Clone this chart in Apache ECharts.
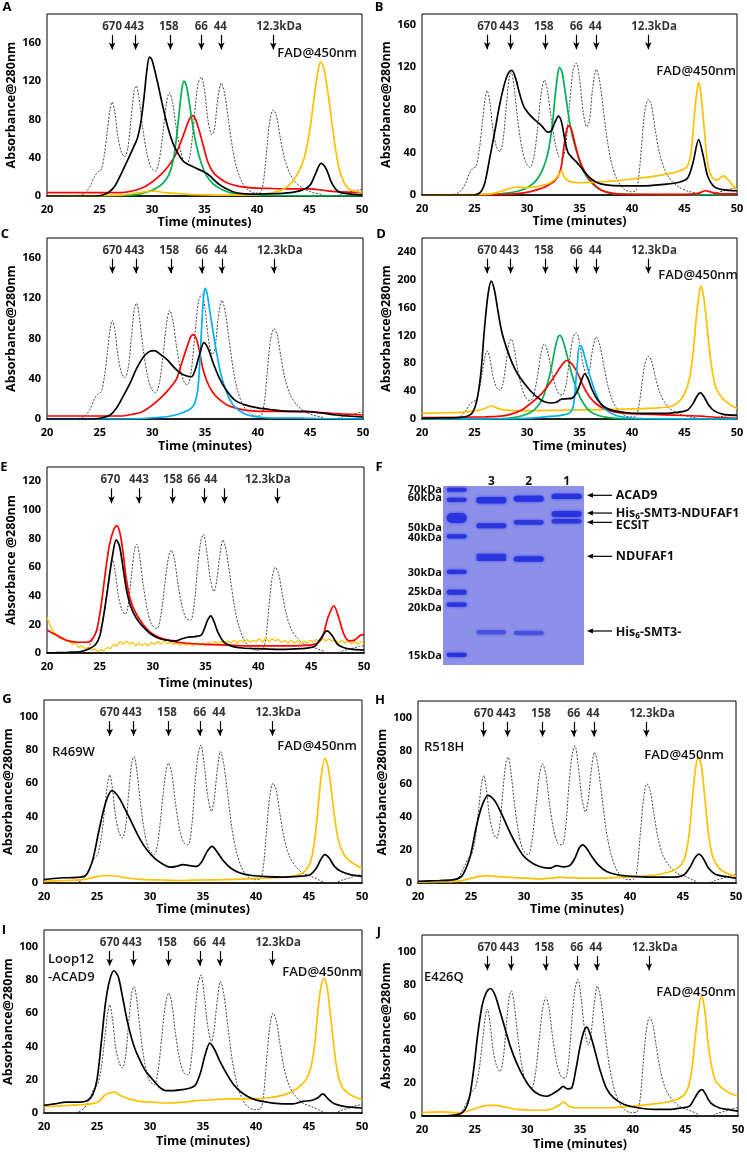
<!DOCTYPE html>
<html>
<head>
<meta charset="utf-8">
<script src="https://cdn.jsdelivr.net/npm/echarts@6/dist/echarts.min.js"></script>
<style>
  html, body { margin: 0; padding: 0; background: #fff; }
  #main { width: 747px; height: 1153px; }
</style>
</head>
<body>
<div id="main"></div>
<script>
// ---- marker (standard protein) annotations ----
var mwNames = ['670', '443', '158', '66', '44', '12.3kDa'];
var mwArrowTimes = [26.2, 28.45, 31.75, 34.7, 36.6, 41.55];
var mwLabelTimes = [26.2, 28.3, 31.6, 34.7, 36.5, 42.1];
var eLabelTimes = [26.0, 28.7, 31.9, 33.9, 35.5, 40.9];
var eArrowTimes = [26.1, 28.7, 31.9, 34.9, 36.8, 41.8];

// ---- standards (dashed) ----
var stdHigh = [[20,0],[22,0],[23,0.5],[23.6,3],[24.1,10],[24.5,20],[24.85,25],[25.15,27],[25.45,42],[25.75,68],[26.0,90],[26.2,98],[26.45,88],[26.75,62],[27.1,45],[27.4,41],[27.7,50],[28.0,80],[28.3,110],[28.5,115],[28.75,103],[29.1,72],[29.5,45],[29.9,30],[30.3,26],[30.65,35],[31.0,62],[31.35,95],[31.65,108],[31.95,98],[32.3,72],[32.7,48],[33.05,36],[33.35,34],[33.7,48],[34.05,85],[34.4,118],[34.7,124],[35.0,110],[35.35,78],[35.7,64],[35.95,70],[36.25,100],[36.6,118],[36.9,108],[37.3,78],[37.7,48],[38.1,28],[38.6,14],[39.2,6],[39.8,3],[40.3,3.5],[40.6,14],[40.9,45],[41.2,77],[41.55,90],[41.85,84],[42.2,62],[42.6,40],[43.1,24],[43.7,14],[44.4,8],[45.2,4],[46.0,2],[46.7,0],[47.4,0],[48.0,2],[48.8,4],[49.5,6],[50,7]];
var stdLow = [[20,0],[22,0],[23.2,0.5],[23.8,3],[24.3,9],[24.75,15],[25.05,17],[25.4,27],[25.75,46],[26.0,60],[26.2,65],[26.45,57],[26.75,40],[27.1,30],[27.4,27],[27.7,34],[28.0,55],[28.3,73],[28.5,76],[28.75,68],[29.1,48],[29.5,30],[29.9,20],[30.4,17],[30.75,25],[31.1,45],[31.45,65],[31.75,72],[32.05,66],[32.4,48],[32.8,32],[33.2,24],[33.6,23],[33.95,35],[34.25,60],[34.55,78],[34.8,83],[35.1,72],[35.45,52],[35.8,43],[36.05,50],[36.35,68],[36.65,79],[36.95,72],[37.35,52],[37.75,32],[38.15,19],[38.65,9],[39.2,4],[39.8,2],[40.4,2.5],[40.7,10],[41.0,32],[41.3,52],[41.6,60],[41.9,56],[42.25,42],[42.65,27],[43.15,16],[43.75,10],[44.4,6],[45.2,4],[45.9,2],[46.6,0],[47.4,0],[48.0,1.5],[48.8,3],[49.5,4.5],[50,5]];

// ---- panel A ----
var aBlack = [[20,0],[24.5,0],[25.3,1],[25.9,4],[26.5,11],[27.1,24],[27.7,38],[28.2,50],[28.6,60],[28.95,78],[29.25,104],[29.5,130],[29.75,145],[30.0,142],[30.5,120],[31.0,95],[31.5,72],[32.0,55],[32.5,44],[33.0,36],[33.6,32],[34.2,29],[34.8,26],[35.3,23],[35.8,18],[36.4,12],[37.0,8],[37.7,4.5],[38.6,2.5],[40,2],[42,2.5],[43.5,4],[44.5,7],[45.1,12],[45.6,24],[46.1,34],[46.6,28],[47.1,14],[47.7,5],[48.5,2.5],[50,1]];
var aRed = [[20,3.5],[27,3.5],[28,5],[29,8],[29.8,13],[30.6,20],[31.4,29],[32.1,40],[32.7,55],[33.2,70],[33.55,80],[33.85,84],[34.15,80],[34.5,68],[34.9,52],[35.3,36],[35.8,25],[36.5,18],[37.3,13],[38.3,10],[39.5,8.5],[41,8],[43,7.5],[45,7.5],[46.3,6],[47.5,4.5],[50,3.5]];
var aGreen = [[20,0],[27,0.5],[28.5,1.5],[29.5,4],[30.4,8],[31.1,14],[31.6,22],[32.0,36],[32.3,58],[32.6,88],[32.85,112],[33.05,120],[33.3,114],[33.6,94],[33.9,72],[34.25,52],[34.7,34],[35.2,21],[35.8,13],[36.6,7],[37.6,3],[39,1.5],[41,0.5],[50,0]];
var aOrange = [[20,0],[27,1],[28.5,3],[29.5,4.5],[30.3,5],[31.2,3.5],[32.5,2.5],[34,1.5],[36,1],[38,1],[40,1.5],[41.5,3.5],[42.5,7],[43.3,14],[44.0,26],[44.5,40],[44.9,60],[45.2,82],[45.5,108],[45.8,130],[46.05,140],[46.35,134],[46.7,112],[47.05,84],[47.4,55],[47.75,32],[48.2,16],[48.7,8],[49.3,5],[50,4]];

// ---- panel B ----
var bBlack = [[20,0],[25,0],[25.6,3],[26.0,12],[26.4,32],[26.9,58],[27.4,85],[27.9,106],[28.25,115],[28.55,117],[28.9,110],[29.3,95],[29.7,83],[30.2,76],[30.8,70],[31.4,65],[32.0,59],[32.3,60],[32.65,68],[33.0,74],[33.3,68],[33.6,52],[33.9,40],[34.3,35],[34.8,30],[35.3,24],[35.9,17],[36.6,12],[37.5,9.5],[39,8.5],[41,8.5],[43,10],[44.5,12],[45.3,16],[45.8,30],[46.35,52],[46.8,36],[47.2,18],[47.8,8],[48.6,5],[50,4]];
var bGreen = [[20,0],[27,0.5],[28.3,2],[29.3,4],[30.2,8],[30.9,14],[31.5,24],[32.0,40],[32.4,65],[32.7,95],[32.95,115],[33.1,120],[33.35,115],[33.65,96],[34.0,72],[34.4,52],[34.9,35],[35.4,22],[36.0,13],[36.8,6],[37.8,2],[39.5,0.5],[50,0]];
var bRed = [[20,0],[28,0.5],[29.7,2],[31.0,5],[32.0,9],[32.8,15],[33.25,26],[33.55,48],[33.8,62],[34.0,65],[34.25,61],[34.6,47],[35.0,33],[35.5,22],[36.2,12],[37.0,5],[38.2,1.5],[40,0.5],[45,0.5],[46.3,1.5],[47.0,4],[47.6,2.5],[48.5,1],[50,1]];
var bOrange = [[20,0],[26,0.5],[27,2],[28,5],[29,7.5],[30,7],[31,8],[32,10.5],[32.7,15],[33.1,20],[33.3,23],[33.55,17],[34.0,13],[35,11.5],[36.5,12],[38,13],[40,15],[42,17.5],[43.5,20],[44.6,23],[45.2,26],[45.6,38],[45.9,70],[46.15,95],[46.35,106],[46.6,92],[46.9,60],[47.2,30],[47.6,17],[48.1,14],[48.5,17],[48.75,18],[49.1,15],[49.5,10],[50,5]];

// ---- panel C ----
var cBlack = [[20,0],[24.5,0],[25.3,1.5],[26,4],[26.6,11],[27.2,22],[27.9,36],[28.5,50],[29.1,61],[29.7,67],[30.2,68],[30.8,64],[31.4,59],[32.0,52],[32.6,46],[33.2,43],[33.7,42],[34.1,50],[34.5,65],[34.9,76],[35.3,70],[35.8,55],[36.4,40],[37.0,29],[37.8,19],[38.8,14],[40,11],[41.5,9],[43,7.5],[44.5,7.5],[46,6],[47.5,4],[50,2]];
var cRed = [[20,3],[27,3],[28,4.5],[29,7],[29.9,13],[30.8,21],[31.6,30],[32.3,40],[32.8,56],[33.3,72],[33.65,82],[33.9,84],[34.2,79],[34.5,66],[34.8,50],[35.2,37],[35.7,27],[36.3,20],[37.1,14],[38.2,10],[39.5,8],[41,7.5],[43,7.5],[45,7],[46.5,6],[48,5],[50,4]];
var cBlue = [[20,0],[27,0],[29,0.5],[30.5,1.5],[31.8,3],[32.8,6],[33.6,10],[34.0,15],[34.3,28],[34.5,55],[34.7,95],[34.85,120],[35.0,130],[35.2,125],[35.45,108],[35.75,88],[36.1,66],[36.5,45],[37.0,28],[37.6,15],[38.3,8],[39.2,3.5],[40.5,1.5],[42,1],[44,1],[46,0.5],[50,0]];

// ---- panel D ----
var dBlack = [[20,1],[22,1.5],[23.5,2],[24.3,4],[24.8,9],[25.2,25],[25.6,65],[25.95,130],[26.3,180],[26.6,198],[26.9,185],[27.2,158],[27.6,125],[28.1,100],[28.6,80],[29.1,65],[29.7,52],[30.3,41],[31.0,31],[31.6,25],[32.2,23],[32.8,24],[33.2,28],[33.7,29],[34.3,30],[34.8,40],[35.2,56],[35.5,65],[35.8,58],[36.2,42],[36.7,28],[37.3,18],[38.2,12],[39.5,9],[41,8],[43,8],[44.5,10],[45.3,13],[45.8,22],[46.2,33],[46.5,38],[46.9,31],[47.3,20],[47.8,12],[48.6,7],[50,5]];
var dGreen = [[20,0],[27.5,0.5],[28.7,2],[29.6,5],[30.4,10],[31.0,18],[31.5,30],[31.9,48],[32.3,72],[32.65,100],[32.9,115],[33.1,120],[33.35,116],[33.7,98],[34.05,77],[34.45,55],[34.9,36],[35.4,22],[36.0,11],[36.8,5],[37.8,2],[39,0.5],[50,0]];
var dRed = [[20,2],[26,3],[27.5,4],[28.5,7],[29.5,13],[30.4,23],[31.3,35],[32.0,48],[32.6,61],[33.1,73],[33.5,81],[33.8,84],[34.15,81],[34.6,72],[35.0,60],[35.4,46],[35.9,33],[36.5,23],[37.3,15],[38.3,10],[39.5,8],[41,7],[43,6],[45,5],[46.5,4],[48,2.5],[50,1]];
var dBlue = [[20,0],[29,0.5],[31,2],[32.5,4],[33.5,6],[34.1,9],[34.4,18],[34.6,45],[34.8,80],[35.0,105],[35.2,104],[35.45,92],[35.8,72],[36.2,52],[36.6,35],[37.1,20],[37.7,11],[38.5,5],[39.5,2],[41,0.5],[50,0]];
var dOrange = [[20,8],[22,9],[24,10],[25.2,12],[26,15],[26.6,19],[27.1,16],[27.8,13],[29,12],[31,12],[33,12.5],[35,13],[37,13.5],[39,14],[41,15],[42.5,16],[43.6,18],[44.4,24],[45.0,36],[45.5,60],[45.85,100],[46.15,150],[46.4,180],[46.55,191],[46.75,182],[47.0,155],[47.3,110],[47.65,68],[48.0,45],[48.5,32],[49.2,22],[50,15]];

// ---- panel E ----
var eRed = [[20,16],[21,12],[22,8.5],[23,7.5],[23.8,7.5],[24.3,10],[24.7,16],[25.1,32],[25.5,55],[25.9,75],[26.3,86],[26.6,89],[26.9,84],[27.2,70],[27.5,52],[27.9,37],[28.4,28],[29.0,21],[29.7,15],[30.6,11],[31.7,8.5],[33,7],[35,6],[37,5.5],[39,5],[41,5],[43,5],[44.8,5.5],[45.6,7],[46.1,12],[46.6,25],[47.15,33],[47.6,25],[48.1,13],[48.6,8.5],[49.1,9],[49.6,12],[50,13]];
var eBlack = [[20,0],[22,0.5],[23.2,1],[24,3],[24.6,6],[25.0,12],[25.4,28],[25.8,48],[26.2,68],[26.55,79],[26.85,75],[27.15,62],[27.5,45],[27.9,33],[28.4,25],[29.0,19],[29.7,14],[30.5,10.5],[31.3,9],[32.2,8.5],[32.8,10],[33.3,11],[34.0,11.5],[34.6,12.5],[34.9,17],[35.2,23],[35.5,26],[35.8,22],[36.2,14],[36.7,8],[37.4,5],[38.5,3.5],[40,3],[42,2.5],[44,3],[45.3,4.5],[45.9,10],[46.5,15.5],[47.0,12],[47.5,6],[48.2,3.5],[49,2.5],[50,2]];
var eOrange = [[20,25],[20.3,19],[20.6,15],[20.9,13],[21.2,10],[21.5,10],[21.8,8],[22.1,9],[22.4,6],[22.7,7],[23,4],[23.3,5],[23.6,3],[23.9,4],[24.2,2],[24.5,3],[24.8,1],[25.1,2.5],[25.4,1.5],[25.7,4],[26,3],[26.3,6],[26.6,5],[26.9,8],[27.2,6],[27.5,8],[27.8,6.5],[28.1,7.5],[28.4,5],[28.7,7],[29,5],[29.3,6.5],[29.6,5],[29.9,7.5],[30.2,6],[30.5,8],[30.8,6],[31.1,8.5],[31.4,6.5],[31.7,7.5],[32,6],[32.3,7],[32.6,5.5],[32.9,7],[33.2,5.5],[33.5,6.5],[33.8,5],[34.1,7],[34.4,5.5],[34.7,7],[35,5],[35.3,7.5],[35.6,6],[35.9,8],[36.2,6.5],[36.5,8],[36.8,6.5],[37.1,8.5],[37.4,7],[37.7,9],[38,7],[38.3,9],[38.6,7.5],[38.9,9.5],[39.2,7.5],[39.5,9],[39.8,8],[40.1,10],[40.4,7.5],[40.7,11],[41,8],[41.3,10],[41.6,8.5],[41.9,9.5],[42.2,7.5],[42.5,9],[42.8,7],[43.1,9],[43.4,7],[43.7,8.5],[44,6.5],[44.3,8.5],[44.6,7],[44.9,9],[45.2,7.5],[45.5,9.5],[45.8,8],[46.1,10],[46.4,8.5],[46.7,10],[47,8],[47.3,9],[47.6,7],[47.9,9],[48.2,7],[48.5,8.5],[48.8,6.5],[49.1,8],[49.4,6],[49.7,8],[50,7]];

// ---- panels G-J ----
var gBlack = [[20,2],[21.5,3],[23.4,3.5],[24.0,5],[24.6,14],[25.2,32],[25.8,48],[26.4,55.5],[27.0,52],[27.6,45],[28.3,36],[29.0,27],[29.7,20],[30.5,14.5],[31.3,11],[31.9,9.5],[32.5,10],[33.1,11],[33.7,10.5],[34.4,10],[34.9,13],[35.4,19],[35.85,22],[36.3,19],[36.9,13.5],[37.6,9],[38.5,6],[39.6,4.5],[41,3.8],[42.5,3.5],[44,4],[45.1,5],[45.7,9],[46.1,14],[46.5,17],[46.9,15],[47.4,10],[48.0,7],[48.9,5],[50,4]];
var gOrange = [[20,1],[22,1.5],[23.7,2],[24.8,3.5],[25.8,4.5],[26.7,4.2],[27.8,3],[29.2,2.2],[31,1.8],[33,1.5],[35,1.8],[37,2],[39,2.5],[41,3],[42.6,3.5],[43.8,4.5],[44.6,7],[45.1,12],[45.5,24],[45.85,45],[46.15,64],[46.5,75],[46.8,70],[47.1,56],[47.45,38],[47.8,25],[48.3,17],[49,12.5],[50,9]];
var hBlack = [[20,1],[22,1.5],[23.4,2],[24.1,4],[24.6,10],[25.0,18],[25.5,34],[26.0,46],[26.6,53],[27.2,50],[27.8,43],[28.5,33],[29.2,24],[30.0,16],[30.8,12],[31.7,9.5],[32.5,9],[33.1,10.5],[33.7,9.8],[34.3,10.5],[34.8,15],[35.2,21],[35.55,23],[35.9,21],[36.4,16],[37.0,11],[37.8,7],[38.8,5],[40.2,4],[42,3.5],[44,3.5],[45.1,5],[45.7,10],[46.1,15],[46.5,17.5],[46.9,15],[47.4,9],[48.0,5.5],[48.9,4],[50,3]];
var hOrange = [[20,0.5],[22,0.8],[23.7,1],[24.8,2.5],[25.8,4],[26.5,4.5],[27.3,4],[28.4,3.5],[30,3],[31.6,2.5],[32.7,3],[33.3,3.5],[34,3.2],[35.5,3],[37.5,3],[39.5,3.5],[41,4],[42.5,5],[43.6,6.5],[44.5,9],[45.1,14],[45.55,28],[45.9,52],[46.2,70],[46.45,76],[46.75,70],[47.05,52],[47.4,30],[47.8,16],[48.4,9],[49.1,6],[50,4]];
var iBlack = [[20,4.6],[21,5.5],[22.1,6.5],[23.4,6.5],[24.1,7.5],[24.6,11],[25.0,20],[25.4,42],[25.8,66],[26.2,80],[26.6,85.5],[27.0,82],[27.4,70],[27.9,54],[28.5,40],[29.1,31],[29.6,25],[30.0,22],[30.4,19],[30.9,15.5],[31.5,13.5],[32.2,13.5],[33.0,14],[33.8,15],[34.3,17],[34.8,25],[35.2,35],[35.65,42],[36.1,38],[36.6,31],[37.2,24],[37.9,17],[38.7,12],[39.7,8.5],[41,6.5],[42.5,5.5],[43.5,5.5],[44.4,7],[45.2,7.5],[45.8,9],[46.3,11.5],[46.8,8.5],[47.4,5.5],[48.3,4],[50,3]];
var iOrange = [[20,4],[21,4],[22.1,4.5],[23.5,5],[24.5,5.5],[25.2,7],[25.7,10.5],[26.2,12],[26.7,12.5],[27.2,10.5],[28,8.5],[29,7],[30.2,6.5],[31.6,6],[33,6.5],[34.7,7.5],[36,8],[37.2,8.5],[38.5,8.5],[39.8,8.5],[41,9],[42,10],[42.9,11.5],[43.7,14],[44.3,17],[44.8,21],[45.2,28],[45.55,42],[45.85,62],[46.1,75],[46.4,81],[46.7,76],[47.0,60],[47.35,40],[47.7,24],[48.2,15],[48.9,11],[50,8]];
var jBlack = [[20,0],[22,0],[23.1,0.5],[23.7,1.5],[24.1,4],[24.5,11],[24.9,28],[25.3,50],[25.7,67],[26.1,75],[26.5,77.5],[26.9,74],[27.3,66],[27.8,55],[28.4,42],[29.0,32],[29.7,23],[30.4,16.5],[31.1,13],[31.8,12],[32.4,13.5],[33.0,16],[33.4,18],[33.8,16.5],[34.2,17],[34.6,28],[35.0,42],[35.35,51],[35.65,54],[35.95,50],[36.4,40],[36.9,28],[37.5,17],[38.2,11],[39.2,7],[40.5,5],[42,4],[43.5,4],[44.7,5],[45.4,6],[45.9,11],[46.3,15],[46.6,16],[46.9,13.5],[47.4,8],[48.2,5],[49,4],[50,3]];
var jOrange = [[20,2],[21.8,2.5],[23.7,2],[24.6,3.5],[25.3,5],[26.2,6.5],[27,6.5],[27.8,5.5],[29,4],[30.5,3.5],[31.6,3.5],[32.4,4.5],[33.0,6.5],[33.45,8.5],[33.9,6],[34.6,5],[36,5],[37.6,5],[39,5.5],[40.8,6.5],[42.3,7.5],[43.3,8.5],[44.2,10],[44.9,13],[45.3,18],[45.65,30],[45.95,48],[46.25,65],[46.55,73],[46.85,64],[47.15,45],[47.5,30],[47.9,21],[48.5,17],[49.2,14],[50,12]];

// ---- gel (panel F) ----
var laneNames = ['3', '2', '1'];
var laneX = [0.343, 0.608, 0.877];
var markerX = 0.097;
var markerLabels = ['70kDa', '60kDa', '50kDa', '40kDa', '30kDa', '25kDa', '20kDa', '15kDa'];
var markerPos = [2.1, 7.7, 17.9, 28.1, 48.0, 59.4, 66.3, 94.3];
var markerThick = [2.2, 2.4, 5.5, 2.4, 2.4, 2.8, 2.4, 2.4];
var markerLabelPos = [1.9, 6.9, 23.6, 28.7, 48.4, 59.1, 68.3, 94.8];
var lane3Pos = [8.0, 22.2, 39.0, 40.8, 81.7];
var lane3Thick = [3.6, 2.8, 2.2, 2.2, 2.4];
var lane3Int = [1, 0.9, 0.85, 0.85, 0.5];
var lane2Pos = [7.1, 20.3, 40.8, 82.1];
var lane2Thick = [3.4, 2.6, 3.0, 2.6];
var lane2Int = [1, 0.85, 0.95, 0.5];
var lane1Pos = [5.8, 15.6, 19.7];
var lane1Thick = [3.0, 3.4, 2.6];
var lane1Int = [1, 0.95, 0.85];
var bandNames = ['ACAD9', 'His\u2086-SMT3-NDUFAF1', 'ECSIT', 'NDUFAF1', 'His\u2086-SMT3-'];
var bandArrowPos = [5.2, 15.1, 20.3, 39.3, 81.0];
var bandTextPos = [5.4, 15.3, 21.8, 39.1, 81.8];

var FONT = "'Open Sans', 'Noto Sans', sans-serif";
var grids = [], xAxes = [], yAxes = [], series = [], texts = [];

function addPanel(p) {
  var i = grids.length;
  grids.push({ left: p.left, top: p.top, width: p.width, height: p.height, show: true,
    borderColor: '#000', borderWidth: 1, backgroundColor: '#fff', outerBoundsMode: 'none' });
  xAxes.push({ gridIndex: i, type: 'value', min: 20, max: 50, interval: 5,
    axisLine: { show: true, onZero: false, lineStyle: { color: '#222', width: 2 } },
    axisTick: { show: false }, splitLine: { show: false },
    axisLabel: { margin: 8, fontSize: 11, fontWeight: 'bold', color: '#000', fontFamily: FONT },
    name: p.xName ? 'Time (minutes)' : '', nameLocation: 'middle', nameGap: p.xGap || 20,
    nameTextStyle: { fontSize: 12.5, fontWeight: 'bold', color: '#000', fontFamily: FONT } });
  yAxes.push({ gridIndex: i, type: 'value', min: 0, max: p.ymax, interval: p.yint,
    axisLine: { show: false }, axisTick: { show: false }, splitLine: { show: false },
    axisLabel: { margin: 6, fontSize: 11, fontWeight: 'bold', color: '#000', fontFamily: FONT,
      formatter: function (v) { return v % p.yint === 0 ? v : ''; } },
    name: p.yName || 'Absorbance@280nm', nameLocation: 'middle', nameGap: 27,
    nameTextStyle: { fontSize: 12.5, fontWeight: 'bold', color: '#000', fontFamily: FONT } });

  series.push({ type: 'line', xAxisIndex: i, yAxisIndex: i, data: p.std, showSymbol: false,
    smooth: 0.3, lineStyle: { color: '#444', width: 1, type: [2, 1.5] }, z: 2 });
  p.lines.forEach(function (l) {
    series.push({ type: 'line', xAxisIndex: i, yAxisIndex: i, data: l[0], showSymbol: false,
      smooth: l[2] === false ? false : 0.3, lineStyle: { color: l[1], width: l[3] || 1.7 }, z: 3 });
  });

  var labT = p.labelTimes || mwLabelTimes, arrT = p.arrowTimes || mwArrowTimes;
  series.push({ type: 'scatter', xAxisIndex: i, yAxisIndex: i, symbolSize: 1, silent: true,
    itemStyle: { color: 'rgba(0,0,0,0)' },
    label: { show: true, position: 'inside', fontSize: 11.5, fontWeight: 'bold', color: '#000', fontFamily: FONT,
      formatter: function (d) { return d.name; } },
    data: mwNames.map(function (n, k) { return { name: n, value: [labT[k], p.ymax * 0.93] }; }),
    markLine: { silent: true, symbol: ['none', 'arrow'], symbolSize: [5, 7],
      lineStyle: { color: '#000', width: 1.2, type: 'solid' }, label: { show: false }, animation: false,
      data: arrT.map(function (t) { return [{ coord: [t, p.ymax * 0.885] }, { coord: [t, p.ymax * 0.805] }]; }) },
    z: 5 });

  texts.push({ type: 'text', x: p.letter[1], y: p.letter[2], style: { text: p.letter[0],
    font: 'bold 13px ' + FONT, fill: '#000', align: 'center', verticalAlign: 'middle' } });
  (p.notes || []).forEach(function (n) {
    texts.push({ type: 'text', x: n[1], y: n[2], z: 10, style: { text: n[0], font: '600 13px ' + FONT,
      fill: '#111', align: n[3] || 'left', verticalAlign: 'middle' } });
  });
}

addPanel({ left: 47, top: 14, width: 315, height: 182, ymax: 190, yint: 40, xName: true, xGap: 18,
  std: stdHigh, lines: [[aRed, '#ff0000'], [aGreen, '#00b050'], [aOrange, '#ffc000'], [aBlack, '#000']],
  letter: ['A', 7, 7], notes: [['FAD@450nm', 357, 53, 'right']] });
addPanel({ left: 422, top: 14, width: 315, height: 181, ymax: 170, yint: 40, xName: true, xGap: 19,
  std: stdHigh, lines: [[bGreen, '#00b050'], [bRed, '#ff0000'], [bOrange, '#ffc000'], [bBlack, '#000']],
  letter: ['B', 379, 7], notes: [['FAD@450nm', 736, 71, 'right']] });
addPanel({ left: 47, top: 238, width: 316, height: 181, ymax: 180, yint: 40, xName: true, xGap: 21,
  std: stdHigh, lines: [[cRed, '#ff0000'], [cBlue, '#00b0f0'], [cBlack, '#000']],
  letter: ['C', 5, 234] });
addPanel({ left: 422, top: 238, width: 315, height: 181, ymax: 260, yint: 40, xName: true, xGap: 21,
  std: stdHigh, lines: [[dOrange, '#ffc000'], [dGreen, '#00b050'], [dRed, '#ff0000'], [dBlue, '#00b0f0'], [dBlack, '#000']],
  letter: ['D', 381, 234], notes: [['FAD@450nm', 738, 275, 'right']] });
addPanel({ left: 47, top: 467, width: 317, height: 186, ymax: 130, yint: 20, xName: true, xGap: 24,
  yName: 'Absorbance @280nm', labelTimes: eLabelTimes, arrowTimes: eArrowTimes,
  std: stdLow, lines: [[eOrange, '#ffc000', false, 1.2], [eRed, '#ff0000'], [eBlack, '#000']],
  letter: ['E', 4, 467] });
addPanel({ left: 44, top: 700, width: 318, height: 183, ymax: 110, yint: 20, xName: true, xGap: 20,
  std: stdLow, lines: [[gOrange, '#ffc000'], [gBlack, '#000']],
  letter: ['G', 7, 699], notes: [['FAD@450nm', 357, 746, 'right'], ['R469W', 52, 752]] });
addPanel({ left: 418, top: 701, width: 318, height: 182, ymax: 110, yint: 20, xName: true, xGap: 20,
  std: stdLow, lines: [[hOrange, '#ffc000'], [hBlack, '#000']],
  letter: ['H', 380, 700], notes: [['FAD@450nm', 724, 755, 'right'], ['R518H', 424, 747]] });
addPanel({ left: 44, top: 930, width: 318, height: 183, ymax: 110, yint: 20, xName: true, xGap: 22,
  std: stdLow, lines: [[iOrange, '#ffc000'], [iBlack, '#000']],
  letter: ['I', 4, 930], notes: [['FAD@450nm', 362, 972, 'right'], ['Loop12', 48, 959], ['-ACAD9', 48, 977]] });
addPanel({ left: 422, top: 935, width: 316, height: 181, ymax: 110, yint: 20, xName: true, xGap: 22,
  std: stdLow, lines: [[jOrange, '#ffc000'], [jBlack, '#000']],
  letter: ['J', 379, 932], notes: [['FAD@450nm', 736, 992, 'right'], ['E426Q', 424, 977]] });

// ---- gel grid ----
var gi = grids.length;
grids.push({ left: 443, top: 486, width: 141, height: 179, show: true, borderWidth: 0,
  backgroundColor: '#8c90e9', outerBoundsMode: 'none' });
xAxes.push({ gridIndex: gi, type: 'value', min: 0, max: 1, show: false });
yAxes.push({ gridIndex: gi, type: 'value', min: 0, max: 100, inverse: true, show: false });
texts.push({ type: 'text', x: 379, y: 467, style: { text: 'F', font: 'bold 13px ' + FONT,
  fill: '#000', align: 'center', verticalAlign: 'middle' } });

var bands = [];
markerPos.forEach(function (y, k) { bands.push([markerX, y, 0.142, markerThick[k], 0.95]); });
lane3Pos.forEach(function (y, k) { bands.push([laneX[0], y, 0.213, lane3Thick[k], lane3Int[k]]); });
lane2Pos.forEach(function (y, k) { bands.push([laneX[1], y, 0.213, lane2Thick[k], lane2Int[k]]); });
lane1Pos.forEach(function (y, k) { bands.push([laneX[2], y, 0.213, lane1Thick[k], lane1Int[k]]); });

series.push({ type: 'custom', xAxisIndex: gi, yAxisIndex: gi, data: bands, silent: true,
  renderItem: function (params, api) {
    var c = api.coord([api.value(0), api.value(1)]);
    var s = api.size([api.value(2), api.value(3)]);
    var w = Math.abs(s[0]), h = Math.abs(s[1]);
    return { type: 'rect', shape: { x: c[0] - w / 2, y: c[1] - h / 2, width: w, height: h, r: h / 2 },
      style: { fill: '#2733dc', opacity: api.value(4), shadowBlur: 3, shadowColor: '#3440e0' } };
  } });

series.push({ type: 'custom', xAxisIndex: gi, yAxisIndex: gi, clip: false, silent: true,
  data: markerLabels.map(function (n, k) { return [0, markerLabelPos[k], n]; }),
  renderItem: function (params, api) {
    var c = api.coord([0, api.value(1)]);
    return { type: 'text', x: c[0] - 1, y: c[1], style: { text: markerLabels[params.dataIndex],
      font: 'bold 11px ' + FONT, fill: '#111', align: 'right', verticalAlign: 'middle' } };
  } });

series.push({ type: 'custom', xAxisIndex: gi, yAxisIndex: gi, clip: false, silent: true,
  data: laneNames.map(function (n, k) { return [laneX[k], -2.6]; }),
  renderItem: function (params, api) {
    var c = api.coord([api.value(0), api.value(1)]);
    return { type: 'text', x: c[0], y: c[1], style: { text: laneNames[params.dataIndex],
      font: 'bold 12px ' + FONT, fill: '#111', align: 'center', verticalAlign: 'middle' } };
  } });

series.push({ type: 'custom', xAxisIndex: gi, yAxisIndex: gi, clip: false, silent: true,
  data: bandNames.map(function (n, k) { return [1.021, bandArrowPos[k], 1.199, bandTextPos[k]]; }),
  renderItem: function (params, api) {
    var a = api.coord([api.value(0), api.value(1)]);
    var b = api.coord([api.value(2), api.value(1)]);
    var t = api.coord([1.225, api.value(3)]);
    return { type: 'group', children: [
      { type: 'line', shape: { x1: a[0] + 5, y1: a[1], x2: b[0], y2: b[1] }, style: { stroke: '#000', lineWidth: 1.2 } },
      { type: 'polygon', shape: { points: [[a[0], a[1]], [a[0] + 6, a[1] - 2.5], [a[0] + 6, a[1] + 2.5]] }, style: { fill: '#000' } },
      { type: 'text', x: t[0], y: t[1], style: { text: bandNames[params.dataIndex],
        font: 'bold 12.5px ' + FONT, fill: '#111', align: 'left', verticalAlign: 'middle' } }
    ] };
  } });

var chart = echarts.init(document.getElementById('main'), null, { renderer: 'canvas' });
chart.setOption({
  backgroundColor: '#fff',
  animation: false,
  grid: grids,
  xAxis: xAxes,
  yAxis: yAxes,
  series: series,
  graphic: texts
});
</script>
</body>
</html>
